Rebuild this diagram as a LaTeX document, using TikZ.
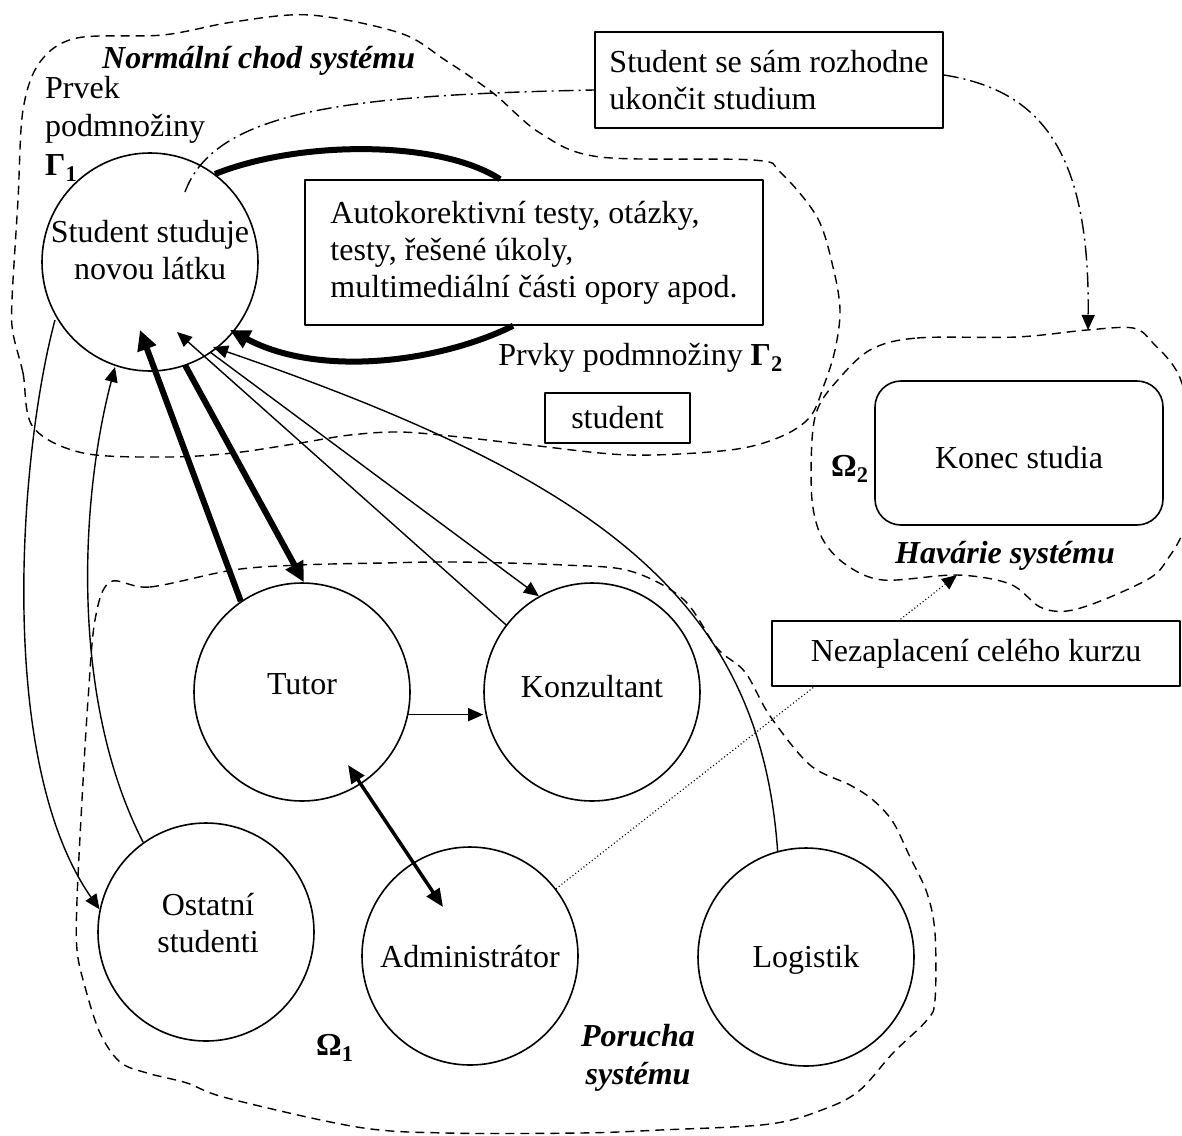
\documentclass[tikz,border=0pt]{standalone}
\usepackage{fontspec}
\setmainfont{Liberation Serif}
\usetikzlibrary{arrows.meta,calc,shapes.geometric}

\begin{document}
\begin{tikzpicture}[x=1pt,y=-1pt,line join=round,
  txt/.style={font=\fontsize{32}{37}\selectfont, inner sep=0pt},
  lab/.style={font=\fontsize{32}{37}\selectfont\bfseries\itshape, inner sep=0pt},
  circ/.style={draw, ellipse, line width=1.6pt, inner sep=0pt,
               minimum width=216pt, minimum height=218pt},
  box/.style={draw, rectangle, line width=1.6pt, inner sep=0pt, align=left,
              font=\fontsize{32}{37}\selectfont},
  region/.style={line width=1.4pt, dash pattern=on 9pt off 6pt},
  light/.style={line width=1.4pt, -{Triangle[length=15pt,width=13pt]}},
  heavy/.style={line width=6pt, -{Triangle[length=20pt,width=19pt]}},
  medium/.style={line width=3.5pt,
                 {Triangle[length=18pt,width=15pt]}-{Triangle[length=18pt,width=15pt]}},
  dashdot/.style={line width=1.4pt, dash pattern=on 15pt off 5pt on 2pt off 5pt},
  dots/.style={line width=1.2pt, dash pattern=on 1pt off 2.5pt}]

\useasboundingbox (0,0) rectangle (1182,1135);

% ---------- regions ----------
% normal operation
\draw[region] plot[smooth cycle, tension=0.55] coordinates {
  (33,427) (23,373) (13,333) (12,300) (18,200) (23,110) (40,62) (77,38)
  (163,35) (233,22) (310,15) (400,33) (445,60) (493,93) (540,133) (600,157)
  (753,160) (780,172) (817,217) (833,267) (840,310) (835,350) (824,385)
  (810,417) (780,437) (730,450) (630,455) (530,445) (460,437) (400,432)
  (350,435) (300,443) (233,453) (167,457) (83,453)};
% failure
\draw[region] plot[smooth cycle, tension=0.55] coordinates {
  (110,582) (150,587) (233,570) (300,565) (383,563) (457,562) (564,565)
  (630,571) (683,599) (717,648) (745,672) (770,716) (810,765) (850,785)
  (873,800) (893,822) (910,857) (927,893) (935,933) (935,1000) (927,1020)
  (893,1053) (860,1090) (827,1108) (770,1124) (660,1130) (580,1133)
  (446,1133) (357,1127) (227,1098) (187,1083) (147,1073) (120,1062)
  (100,1033) (85,987) (77,950) (77,900) (82,800) (88,700) (95,620)};
% breakdown
\draw[region] plot[smooth cycle, tension=0.55] coordinates {
  (870,350) (917,338) (1017,337) (1087,330) (1133,328) (1152,342) (1180,378)
  (1195,450) (1185,525) (1167,560) (1150,578) (1103,600) (1067,611)
  (1040,607) (1010,584) (957,575) (883,580) (845,564) (822,538) (812,500)
  (812,440) (818,408) (836,382)};

% ---------- actors ----------
\node[circ] (S) at (150,262) {};
\node[circ] (T) at (302,692) {};
\node[circ] (K) at (592,692) {};
\node[circ] (O) at (206,932) {};
\node[circ] (A) at (470,956) {};
\node[circ] (L) at (806,957) {};

\node[txt, anchor=base] (S1) at (150,242) {Student studuje};
\node[txt, anchor=base] (S2) at (150,279) {novou látku};
\node[txt, anchor=base] (T1) at (302,694) {Tutor};
\node[txt, anchor=base] (K1) at (592,697) {Konzultant};
\node[txt, anchor=base] (O1) at (208,915) {Ostatní};
\node[txt, anchor=base] (O2) at (208,952) {studenti};
\node[txt, anchor=base] (A1) at (470,967) {Administrátor};
\node[txt, anchor=base] (L1) at (806,967) {Logistik};

% ---------- boxes ----------
\node[box, minimum width=458pt, minimum height=145pt] (B1) at (534,252.5)
  {Autokorektivní testy, otázky,\\testy, řešené úkoly,\\multimediální části opory apod.};
\node[box, minimum width=348pt, minimum height=96pt] (B2) at (769,80)
  {Student se sám rozhodne\\ukončit studium};
\node[box, minimum width=145pt, minimum height=50pt] (St) at (617.5,418) {student};
\node[box, rounded corners=26pt, minimum width=288pt, minimum height=144pt]
  (E) at (1019,453) {};
\node[txt, anchor=base] (E1) at (1019,468) {Konec studia};

% ---------- labels ----------
\node[lab, anchor=base west] (N1) at (102,68) {Normální chod systému};
\node[txt, anchor=base west] (P1) at (45,98) {Prvek};
\node[txt, anchor=base west] (P2) at (45,136) {podmnožiny};
\node[txt, anchor=base west] (P3) at (45,175) {\textbf{Γ\textsubscript{1}}};
\node[txt, anchor=base east] (P4) at (783,365) {Prvky podmnožiny \textbf{Γ\textsubscript{2}}};
\node[txt, anchor=base west] (W2) at (831,476) {\textbf{Ω\textsubscript{2}}};
\node[lab, anchor=base] (H1) at (1005,563) {Havárie systému};
\node[txt, anchor=base west] (W1) at (316,1055) {\textbf{Ω\textsubscript{1}}};
\node[lab, anchor=base] (R1) at (638,1046) {Porucha};
\node[lab, anchor=base] (R2) at (638,1084) {systému};

% ---------- attachment points ----------
\coordinate (sT1) at ($(S)+(-10,68)$);
\coordinate (sT2) at ($(S)+(35,103)$);
\coordinate (sK1) at ($(S)+(27,70)$);
\coordinate (sK2) at ($(S)+(60,90)$);
\coordinate (sL)  at ($(S)+(63,85)$);
\coordinate (sB)  at ($(S)+(80,68)$);
\coordinate (sB0) at ($(S)+(65,-88)$);
\coordinate (sO1) at ($(S)+(-35,105)$);
\coordinate (sO2) at ($(S)+(-95,58)$);
\coordinate (sD)  at ($(S)+(35,-70)$);
\coordinate (tA)  at ($(T)+(46,73)$);
\coordinate (aT)  at ($(A)+(-27,-49)$);
\coordinate (b1t) at ($(B1.north)+(-34,0)$);
\coordinate (b1b) at ($(B1.south)+(-21,0)$);
\coordinate (b2w) at ($(B2.west)+(0,10)$);
\coordinate (b2e) at ($(B2.east)+(0,-5)$);
\coordinate (crashTop) at (1088,330);
\coordinate (crashLow) at (957,575);

% ---------- connectors ----------
% self-study loop through the study materials
\draw[line width=6pt] (sB0) .. controls (300,140) and (440,140) .. (b1t);
\draw[heavy] (b1b) .. controls (440,362) and (320,378) .. (sB);

\draw[heavy] (T.124) -- (sT1);
\draw[heavy] (sT2) -- (T.89);
\draw[light] (K.142) -- (sK1);
\draw[light] (sK2) -- (K.119);
\draw[light] (L.105) .. controls (760,600) and (600,480) .. (sL);
\draw[light] (O.125) .. controls (70,700) and (80,500) .. (sO1);
\draw[light] (sO2) .. controls (20,450) and (-5,760) .. (O.168);
\draw[light] (T.-12) -- (T.-12 -| K.west);
\draw[medium] (tA) -- (aT);

% voluntary termination
\draw[dashdot] (sD) .. controls (215,110) and (350,95) .. (b2w);
\draw[dashdot, -{Triangle[length=15pt,width=13pt]}]
  (b2e) .. controls (1040,90) and (1090,150) .. (crashTop);

% unpaid course
\draw[dots, -{Triangle[length=15pt,width=13pt]}] (A.38) -- (crashLow);
\node[box, fill=white, minimum width=408pt, minimum height=65pt] (NZ) at (976,653.5)
  {Nezaplacení celého kurzu};

\end{tikzpicture}
\end{document}
